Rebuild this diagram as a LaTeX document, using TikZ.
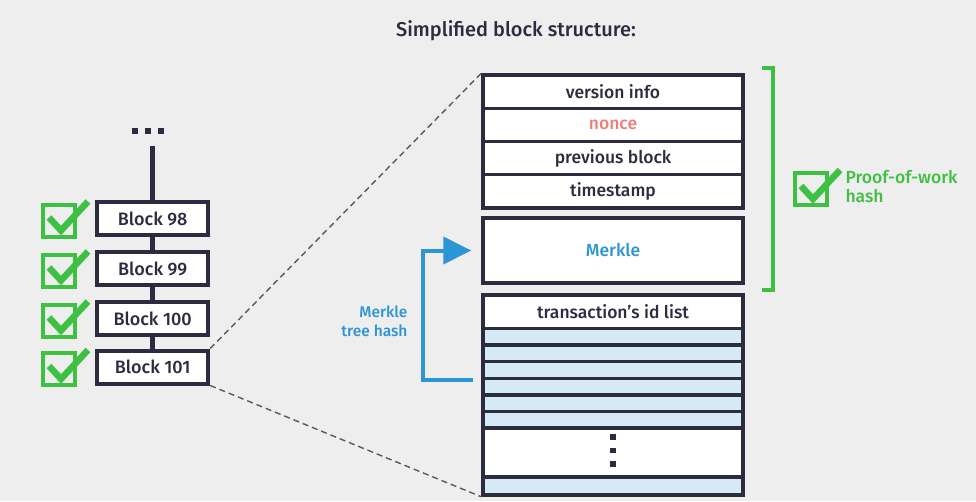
\documentclass[tikz,border=0pt]{standalone}
\usepackage{fontspec}
\setmainfont{Fira Sans}[UprightFont={* Medium}]
\usetikzlibrary{arrows.meta}
\definecolor{bgcol}{HTML}{EEEEEE}
\definecolor{navy}{HTML}{2C2B3F}
\definecolor{okgreen}{HTML}{3EC043}
\definecolor{hashblue}{HTML}{2C95D5}
\definecolor{rowblue}{HTML}{D6EAF5}
\definecolor{noncered}{HTML}{EE7F77}
\definecolor{dashgrey}{HTML}{5A5A5A}
\tikzset{
  blockbox/.style={draw=navy, line width=4pt, fill=white, text=navy,
    minimum width=111pt, minimum height=33pt, inner sep=0pt, font=\fontsize{18}{20}\selectfont},
  fieldbox/.style={draw=navy, line width=3.5pt, fill=white, text=navy,
    minimum width=260pt, inner sep=0pt, font=\fontsize{17.5}{20}\selectfont},
  stripe/.style={fieldbox, fill=rowblue, minimum height=16.7pt},
  chainline/.style={draw=navy, line width=5pt},
  dot/.style={fill=navy, minimum size=6.5pt, inner sep=0pt},
  vdot/.style={fill=navy, minimum size=5.5pt, inner sep=0pt},
  zoomline/.style={draw=dashgrey, line width=1.4pt, dash pattern=on 6pt off 4pt},
  checkbox/.pic={
    \draw[okgreen, line width=4pt] (-16,-16) rectangle (16,16);
    \draw[okgreen, line width=6.5pt, line join=miter] (-10,-3) -- (2,10) -- (29,-19);
  },
}
\begin{document}
\begin{tikzpicture}[x=1pt, y=-1pt]
\fill[bgcol] (0,0) rectangle (976,501);
\useasboundingbox (0,0) rectangle (976,501);

% title
\node[text=navy, font=\fontsize{20}{24}\selectfont] (title) at (516,31) {Simplified block structure:};

% chain of blocks
\node[dot] (d1) at (135,131) {};
\node[dot] (d2) at (148,131) {};
\node[dot] (d3) at (161,131) {};
\coordinate (top) at (152.7,146);
\node[blockbox] (b98)  at (152.7,218.5) {Block 98};
\node[blockbox] (b99)  at (152.7,268.5) {Block 99};
\node[blockbox] (b100) at (152.7,318.5) {Block 100};
\node[blockbox] (b101) at (152.7,367)   {Block 101};
\draw[chainline] (top) -- (b98.north);
\draw[chainline] (b98.south) -- (b99.north);
\draw[chainline] (b99.south) -- (b100.north);
\draw[chainline] (b100.south) -- (b101.north);

% verified marks
\pic at (59,220.5) {checkbox};
\pic at (59,270.5) {checkbox};
\pic at (59,320.5) {checkbox};
\pic at (59,369) {checkbox};

% block header fields
\node[fieldbox, minimum height=33.3pt] (ver)   at (613,91.7)  {version info};
\node[fieldbox, minimum height=33.3pt, text=noncered] (nonce) at (613,125) {nonce};
\node[fieldbox, minimum height=33.3pt] (prev)  at (613,158.3) {previous block};
\node[fieldbox, minimum height=33.3pt] (time)  at (613,191.3) {timestamp};
\node[fieldbox, minimum height=65pt, text=hashblue] (merkle) at (613,250.5) {Merkle};

% transaction list
\node[fieldbox, minimum height=33.3pt] (txh) at (613,311.7) {transaction’s id list};
\node[stripe] (s1) at (613,336.7) {};
\node[stripe] (s2) at (613,353.3) {};
\node[stripe] (s3) at (613,370)   {};
\node[stripe] (s4) at (613,386.7) {};
\node[stripe] (s5) at (613,403.3) {};
\node[stripe] (s6) at (613,420)   {};
\node[fieldbox, minimum height=49pt] (gap) at (613,452.5) {};
\node[stripe, minimum height=18pt] (slast) at (613,486) {};
\node[vdot] (v1) at (613,437) {};
\node[vdot] (v2) at (613,450.5) {};
\node[vdot] (v3) at (613,464) {};

% zoom guides
\draw[zoomline] (b101.north east) -- (ver.north west);
\draw[zoomline] (b101.south east) -- (slast.south west);

% Merkle tree hash arrow
\draw[hashblue, line width=4pt, -{Triangle[length=28pt, width=27pt]}]
  ([xshift=-8pt]s3.south west) -- ++(-50.3,0) |- ([xshift=-10pt]merkle.west);
\node[text=hashblue, font=\fontsize{15.5}{19}\selectfont, align=right, anchor=east] (mth) at (411,321) {Merkle\\tree hash};

% proof-of-work bracket
\coordinate (bt) at (761.5,68);
\coordinate (bb) at (761.5,290);
\draw[okgreen, line width=4pt] (bt) -- ++(11.5,0) -- ([xshift=11.5pt]bb) -- (bb);
\pic at (811,189) {checkbox};
\node[text=okgreen, font=\fontsize{17.5}{19}\selectfont, align=left, anchor=west] (pow) at (842,187) {Proof-of-work\\hash};
\end{tikzpicture}
\end{document}
